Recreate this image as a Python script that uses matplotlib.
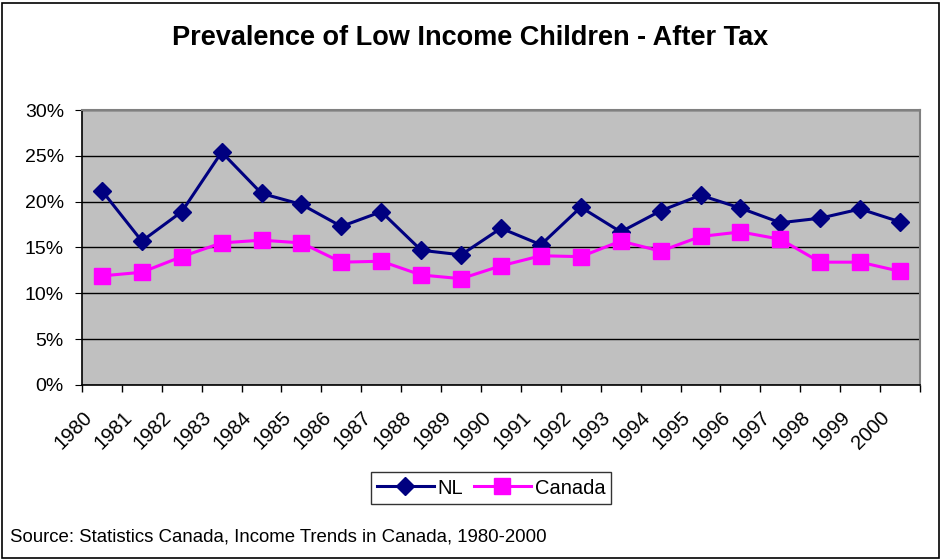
import matplotlib.pyplot as plt
import numpy as np
from matplotlib.ticker import FuncFormatter
from matplotlib.transforms import ScaledTranslation

plt.rcParams['font.family'] = ['Liberation Sans', 'DejaVu Sans']

# data (percent)
years = [str(y) for y in range(1980, 2001)]
nl = [21.2, 15.7, 18.9, 25.4, 20.9, 19.7, 17.3, 18.9, 14.7, 14.2, 17.1,
      15.3, 19.4, 16.7, 19.0, 20.7, 19.3, 17.7, 18.2, 19.2, 17.8]
canada = [11.9, 12.3, 14.0, 15.5, 15.8, 15.5, 13.4, 13.5, 12.0, 11.6, 13.0,
          14.1, 14.0, 15.7, 14.6, 16.2, 16.7, 15.9, 13.4, 13.4, 12.4]

fig = plt.figure(figsize=(9.41, 5.59), dpi=100)
# outer border
fig.patches.append(plt.Rectangle((0.002, 0.002), 0.996, 0.993, transform=fig.transFigure,
                                 fill=False, edgecolor='black', linewidth=1.2))

ax = fig.add_axes([0.0871, 0.3113, 0.8906, 0.4919])
ax.set_facecolor('#C0C0C0')

x = np.arange(len(years))
ax.plot(x, nl, color='#000080', marker='D', markersize=9, linewidth=2.2, label='NL')
ax.plot(x, canada, color='#FF00FF', marker='s', markersize=11, linewidth=2.2, label='Canada')

ax.set_xlim(-0.5, len(years) - 0.5)
ax.set_ylim(0, 30)
ax.set_yticks(np.arange(0, 31, 5))
ax.yaxis.set_major_formatter(FuncFormatter(lambda v, p: '%d%%' % v))
ax.grid(axis='y', color='black', linewidth=1)
ax.set_axisbelow(True)

ax.set_xticks(x)
ax.set_xticklabels(years, rotation=45, ha='right', va='center', rotation_mode='anchor')
ax.set_xticks(np.arange(-0.5, len(years), 1), minor=True)
ax.tick_params(axis='x', which='major', length=0, pad=21, labelsize=14.5)
ax.tick_params(axis='x', which='minor', length=5, direction='out', width=1)
ax.tick_params(axis='y', length=5, direction='out', labelsize=14, pad=8)

# shift rotated year labels left so their ends sit just left of the points
offset = ScaledTranslation(-0.13, 0, fig.dpi_scale_trans)
for lbl in ax.xaxis.get_majorticklabels():
    lbl.set_transform(lbl.get_transform() + offset)

for s in ['top', 'right']:
    ax.spines[s].set_color('#808080')
    ax.spines[s].set_linewidth(1.5)
for s in ['left', 'bottom']:
    ax.spines[s].set_color('black')
    ax.spines[s].set_linewidth(1.2)

fig.text(0.5, 0.932, 'Prevalence of Low Income Children - After Tax', ha='center', va='center',
         fontsize=19.5, fontweight='bold')

leg = fig.legend(loc='center', bbox_to_anchor=(0.522, 0.127), ncol=2, frameon=True,
                 fancybox=False, edgecolor='black', fontsize=14.5, handlelength=2.8,
                 columnspacing=0.55, handletextpad=0.2, borderpad=0.3, borderaxespad=0)
leg.get_frame().set_linewidth(1)

fig.text(0.011, 0.039, 'Source: Statistics Canada, Income Trends in Canada, 1980-2000',
         ha='left', va='center', fontsize=13.4)

fig.savefig('out.png', dpi=100)
